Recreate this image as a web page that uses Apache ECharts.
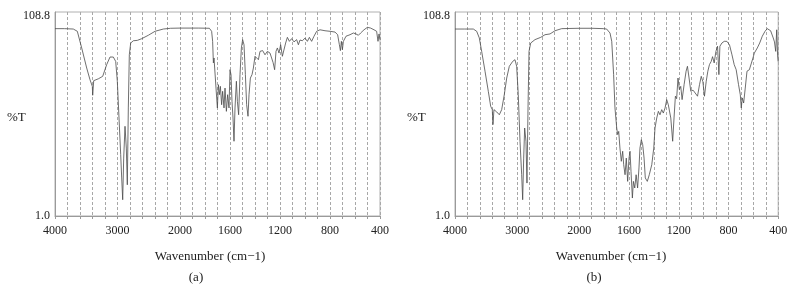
<!DOCTYPE html>
<html><head><meta charset="utf-8">
<script src="https://cdn.jsdelivr.net/npm/echarts@6/dist/echarts.min.js"></script>
<style>html,body{margin:0;padding:0;background:#fff}#c{width:796px;height:306px}</style>
</head><body><div id="c"></div>
<script>
// ---- data ----
const aWavenumber = [4000,3850,3707,3643,3573,3493,3440,3403,3397,3381,3307,3237,3173,3120,3067,3029,3003,2976,2949,2933,2917,2901,2880,2859,2843,2827,2811,2789,2747,2683,2613,2507,2400,2267,2150,2000,1850,1765,1747,1739,1733,1728,1720,1712,1701,1693,1685,1677,1667,1659,1648,1640,1629,1619,1608,1600,1592,1584,1576,1568,1560,1549,1541,1531,1520,1509,1499,1488,1477,1467,1456,1448,1437,1424,1413,1400,1387,1373,1360,1339,1320,1301,1280,1267,1255,1243,1232,1221,1208,1195,1181,1168,1155,1141,1125,1107,1088,1067,1053,1040,1021,1000,981,965,947,928,907,880,840,800,760,739,725,717,709,701,693,672,640,613,592,573,555,528,501,475,448,427,416,408,400];
const aTransmittance = [100.0,100.0,99.8,98.6,89.8,79.2,73.0,69.5,64.8,72.5,73.5,74.8,81.0,85.0,85.0,82.7,72.2,52.8,33.4,21.1,9.6,31.6,48.4,36.9,17.5,58.1,86.2,92.4,93.6,93.8,94.7,96.5,98.6,99.8,100.2,100.3,100.3,100.2,98.6,93.3,81.9,84.5,85.4,68.6,58.1,70.4,65.1,69.5,59.8,66.9,58.1,68.6,56.3,65.1,58.1,78.3,75.7,61.6,52.8,40.5,58.1,72.2,61.6,54.5,75.7,89.8,94.2,91.5,75.7,59.8,53.7,65.1,73.9,75.7,79.2,85.4,86.2,83.6,88.0,88.4,86.2,88.0,87.1,86.2,82.0,78.3,88.0,89.8,87.1,91.5,85.4,86.0,92.4,95.4,93.3,94.7,93.0,94.2,91.5,94.0,93.6,95.0,93.3,95.4,93.3,96.0,98.6,99.4,98.9,98.6,98.2,96.8,91.5,88.4,93.3,88.9,93.3,96.0,96.8,97.7,97.2,96.5,97.7,99.4,100.7,100.3,99.4,98.6,93.3,97.2,94.2];
const bWavenumber = [4000,3850,3705,3651,3609,3571,3517,3464,3426,3400,3389,3373,3329,3287,3249,3207,3168,3126,3072,3035,3008,2982,2954,2927,2911,2895,2879,2858,2842,2825,2809,2782,2713,2621,2552,2471,2391,2283,2150,2000,1900,1807,1780,1753,1739,1724,1713,1699,1691,1683,1673,1662,1651,1643,1632,1622,1611,1600,1592,1584,1573,1565,1554,1543,1531,1520,1512,1501,1490,1479,1469,1453,1437,1417,1401,1391,1377,1364,1351,1337,1324,1310,1297,1284,1264,1249,1238,1227,1217,1206,1195,1184,1173,1157,1141,1130,1117,1103,1085,1068,1049,1033,1019,1006,993,979,966,953,939,928,915,901,888,877,869,853,834,813,792,772,754,738,719,705,697,689,678,665,651,632,616,603,592,580,568,549,528,506,488,474,461,448,440,430,420,412,405,400];
const bTransmittance = [99.8,99.8,99.8,98.6,95.1,88.0,77.5,66.9,59.0,57.2,49.3,57.2,56.0,54.5,57.2,65.1,73.9,80.1,82.7,83.6,80.1,65.1,40.5,22.8,9.6,31.6,47.5,40.5,18.4,58.1,88.0,92.4,94.2,95.4,96.8,97.2,98.9,100.0,100.1,100.2,100.2,100.0,99.8,97.7,93.3,75.7,58.1,47.5,44.0,45.7,36.9,29.9,35.2,28.1,22.8,31.6,19.3,31.6,35.2,24.6,10.5,19.3,15.8,22.8,15.8,26.4,36.9,41.3,38.7,31.6,21.1,19.3,22.8,28.1,36.9,47.5,52.8,56.3,54.5,57.2,55.4,58.1,62.5,59.8,52.8,40.5,52.8,64.3,63.0,73.9,67.8,69.5,62.5,70.4,77.5,80.1,73.9,66.9,67.5,66.0,64.3,70.4,74.8,72.0,64.3,72.2,77.5,81.0,82.7,85.2,81.9,88.0,90.7,75.7,90.7,92.4,93.3,93.3,91.5,86.2,81.0,78.3,70.4,65.1,58.1,63.4,60.7,68.6,77.5,78.3,79.2,84.5,87.1,88.0,89.8,92.4,96.0,98.6,100.0,100.3,98.9,99.4,95.1,93.0,88.0,99.4,86.0,82.7];
const yMin = 1.0, yMax = 108.8;
const highTickLabels = [4000, 3000, 2000];
const lowTickLabels = [1600, 1200, 800, 400];
const panelLetters = ['(a)', '(b)'];
const xTitle = 'Wavenumber (cm\u22121)';
const yTitle = '%T';

// ---- build ----
const FONT = '"Liberation Serif", "DejaVu Serif", serif';
const TXT = '#222';
function splitAt2000(w, t) {
  const hi = [], lo = [];
  for (let i = 0; i < w.length; i++) {
    if (w[i] >= 2000) hi.push([w[i], t[i]]);
    if (w[i] <= 2000) lo.push([w[i], t[i]]);
  }
  return { hi, lo };
}
const panels = [
  { left: 55, hiW: 125, loW: 200, data: splitAt2000(aWavenumber, aTransmittance), titleX: 210, letterX: 196, yLabX: 7 },
  { left: 455, hiW: 124.3, loW: 198.9, data: splitAt2000(bWavenumber, bTransmittance), titleX: 611, letterX: 594, yLabX: 407 }
];
const TOP = 12, H = 204;
const grid = [], xAxis = [], yAxis = [], series = [], graphic = [];
panels.forEach((p, k) => {
  const gi = grid.length;
  grid.push({ left: p.left, top: TOP, width: p.hiW, height: H, show: false });
  grid.push({ left: p.left + p.hiW, top: TOP, width: p.loW, height: H, show: false });
  grid.push({ left: p.left, top: TOP, width: p.hiW + p.loW, height: H, show: true, borderColor: '#b0b0b0', borderWidth: 1, backgroundColor: 'transparent', z: 0 });
  const common = {
    type: 'value', inverse: true,
    axisLine: { show: true, lineStyle: { color: '#9a9a9a', width: 1 } },
    axisTick: { show: true, length: 3, lineStyle: { color: '#9a9a9a' } },
    splitLine: { show: true, lineStyle: { type: [3, 2], color: '#a8a8a8', width: 1 } },
  };
  xAxis.push(Object.assign({}, common, { gridIndex: gi, min: 2000, max: 4000, interval: 200,
    axisLabel: { fontFamily: FONT, fontSize: 12, color: TXT, margin: 9,
      formatter: v => highTickLabels.includes(v) ? String(v) : '' } }));
  xAxis.push(Object.assign({}, common, { gridIndex: gi + 1, min: 400, max: 2000, interval: 100,
    axisLabel: { fontFamily: FONT, fontSize: 12, color: TXT, margin: 9,
      formatter: v => lowTickLabels.includes(v) ? String(v) : '' } }));
  xAxis.push({ gridIndex: gi + 2, type: 'value', min: 0, max: 1, show: false });
  yAxis.push({ gridIndex: gi, type: 'value', min: yMin, max: yMax, interval: yMax - yMin,
    axisLine: { show: true, lineStyle: { color: '#9a9a9a' } }, axisTick: { show: false }, splitLine: { show: false },
    axisLabel: { margin: 5, color: TXT, fontFamily: FONT, fontSize: 12,
      formatter: v => (Math.abs(v - yMax) < 1e-6 ? '{top|' + yMax.toFixed(1) + '}' : (Math.abs(v - yMin) < 1e-6 ? '{n|' + yMin.toFixed(1) + '}' : '')),
      rich: { top: { padding: [7, 0, 0, 0], fontFamily: FONT, fontSize: 12, color: TXT }, n: { fontFamily: FONT, fontSize: 12, color: TXT } } } });
  yAxis.push({ gridIndex: gi + 1, type: 'value', min: yMin, max: yMax, show: false, splitLine: { show: false } });
  yAxis.push({ gridIndex: gi + 2, type: 'value', min: 0, max: 1, show: false });
  const ls = { color: '#4a4a4a', width: 0.8 };
  series.push({ type: 'line', xAxisIndex: gi, yAxisIndex: gi, data: p.data.hi, symbol: 'none', lineStyle: ls, z: 5 });
  series.push({ type: 'line', xAxisIndex: gi + 1, yAxisIndex: gi + 1, data: p.data.lo, symbol: 'none', lineStyle: ls, z: 5 });
  graphic.push({ type: 'text', left: p.yLabX, top: 111, style: { text: yTitle, font: '13px ' + FONT, fill: TXT } });
  graphic.push({ type: 'text', x: p.titleX, y: 257, style: { text: xTitle, font: '13px ' + FONT, fill: TXT, align: 'center', verticalAlign: 'middle' } });
  graphic.push({ type: 'text', x: p.letterX, y: 278, style: { text: panelLetters[k], font: '13px ' + FONT, fill: TXT, align: 'center', verticalAlign: 'middle' } });
});
const chart = echarts.init(document.getElementById('c'), null, { renderer: 'canvas' });
chart.setOption({ animation: false, backgroundColor: '#fff', grid, xAxis, yAxis, series, graphic });
</script></body></html>
